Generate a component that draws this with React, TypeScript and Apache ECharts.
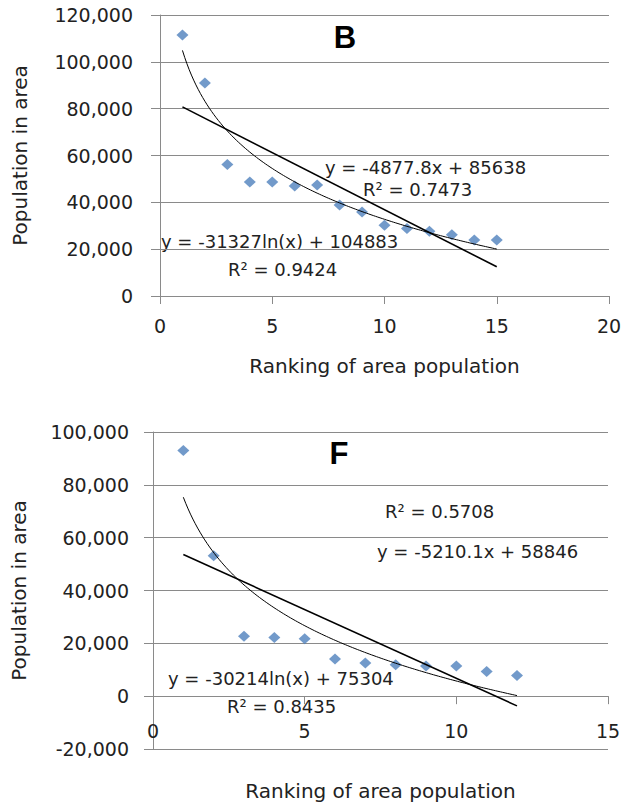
import React, { useEffect, useRef } from "react";
import * as echarts from "echarts";

// ---- Chart B data ----
const RANK_B = [1, 2, 3, 4, 5, 6, 7, 8, 9, 10, 11, 12, 13, 14, 15];
const POP_B = [111500, 91000, 56200, 48700, 48700, 47000, 47400, 38900, 35900, 30200, 28800, 27600, 26200, 23900, 23900];
const LIN_B = { slope: -4877.8, intercept: 85638 };
const LOG_B = { a: -31327, b: 104883 };
const TEXT_B = ["y = -4877.8x + 85638", "R² = 0.7473", "y = -31327ln(x) + 104883", "R² = 0.9424"];

// ---- Chart F data ----
const RANK_F = [1, 2, 3, 4, 5, 6, 7, 8, 9, 10, 11, 12];
const POP_F = [93000, 53200, 22700, 22200, 21700, 14100, 12600, 11900, 11400, 11400, 9300, 7800];
const LIN_F = { slope: -5210.1, intercept: 58846 };
const LOG_F = { a: -30214, b: 75304 };
const TEXT_F = ["R² = 0.5708", "y = -5210.1x + 58846", "y = -30214ln(x) + 75304", "R² = 0.8435"];

const X_NAME = "Ranking of area population";
const Y_NAME = "Population in area";

const FONT = "DejaVu Sans";
const GRID_COLOR = "#8a8a8a";
const TEXT_COLOR = "#222222";
const MARK_COLOR = "#4F81BD";

function linLine(xs: number[], c: { slope: number; intercept: number }) {
  const x0 = xs[0];
  const x1 = xs[xs.length - 1];
  return [
    [x0, c.slope * x0 + c.intercept],
    [x1, c.slope * x1 + c.intercept],
  ];
}
function logLine(xs: number[], c: { a: number; b: number }) {
  const x0 = xs[0];
  const x1 = xs[xs.length - 1];
  const pts: number[][] = [];
  const n = 140;
  for (let i = 0; i <= n; i++) {
    const x = x0 + ((x1 - x0) * i) / n;
    pts.push([x, c.a * Math.log(x) + c.b]);
  }
  return pts;
}

const fmt = (v: number) => v.toLocaleString("en-US");

function xAxisCfg(gridIndex: number, max: number, interval: number, nameGap: number, offset: number, margin: number) {
  return {
    type: "value",
    gridIndex,
    min: 0,
    max,
    interval,
    offset,
    name: X_NAME,
    nameLocation: "middle",
    nameGap,
    nameTextStyle: { fontFamily: FONT, fontSize: 20, color: TEXT_COLOR },
    axisLine: { show: true, onZero: false, lineStyle: { color: GRID_COLOR, width: 1 } },
    axisTick: { show: true, length: 8, lineStyle: { color: GRID_COLOR } },
    axisLabel: { fontFamily: FONT, fontSize: 19, color: TEXT_COLOR, margin },
    splitLine: { show: false },
  };
}
function yAxisCfg(gridIndex: number, min: number, max: number, nameGap: number, margin: number) {
  return {
    type: "value",
    gridIndex,
    min,
    max,
    interval: 20000,
    name: Y_NAME,
    nameLocation: "middle",
    nameGap,
    nameTextStyle: { fontFamily: FONT, fontSize: 20, color: TEXT_COLOR },
    axisLine: { show: true, onZero: false, lineStyle: { color: GRID_COLOR, width: 1 } },
    axisTick: { show: true, length: 9, lineStyle: { color: GRID_COLOR } },
    axisLabel: { fontFamily: FONT, fontSize: 19, color: TEXT_COLOR, margin, formatter: fmt },
    splitLine: { show: true, lineStyle: { color: GRID_COLOR, width: 1 } },
  };
}

function txt(x: number, y: number, text: string, size = 18, bold = false) {
  return {
    type: "text",
    x,
    y,
    style: {
      text,
      fontFamily: bold ? "Liberation Sans" : FONT,
      fontSize: size,
      fontWeight: bold ? "bold" : "normal",
      fill: bold ? "#000" : TEXT_COLOR,
      align: bold ? "center" : "left",
      verticalAlign: "middle",
    },
  };
}

const F_GRID_HEIGHT = 317;

export default function App() {
  const ref = useRef<HTMLDivElement>(null);
  useEffect(() => {
    if (!ref.current) return;
    const chart = echarts.init(ref.current, undefined, { renderer: "svg" });
    // the F chart's x-axis sits on the zero line, one 20,000 step above the grid bottom
    const zeroOffset = -F_GRID_HEIGHT / 6;
    const option: any = {
      animation: false,
      backgroundColor: "#ffffff",
      grid: [
        { left: 160, top: 15, width: 449, height: 281, outerBoundsMode: "none" },
        { left: 153, top: 432, width: 455, height: F_GRID_HEIGHT, outerBoundsMode: "none" },
      ],
      xAxis: [xAxisCfg(0, 20, 5, 60, 0, 20), xAxisCfg(1, 15, 5, 85, zeroOffset, 25)],
      yAxis: [yAxisCfg(0, 0, 120000, 130, 27), yAxisCfg(1, -20000, 100000, 124, 24)],
      series: [
        {
          type: "line",
          xAxisIndex: 0,
          yAxisIndex: 0,
          data: logLine(RANK_B, LOG_B),
          showSymbol: false,
          lineStyle: { color: "#000", width: 1 },
          z: 3,
        },
        {
          type: "line",
          xAxisIndex: 0,
          yAxisIndex: 0,
          data: linLine(RANK_B, LIN_B),
          showSymbol: false,
          lineStyle: { color: "#000", width: 1.6 },
          z: 3,
        },
        {
          type: "scatter",
          xAxisIndex: 0,
          yAxisIndex: 0,
          data: RANK_B.map((r, i) => [r, POP_B[i]]),
          symbol: "diamond",
          symbolSize: [12, 11],
          itemStyle: { color: MARK_COLOR },
          z: 2,
        },
        {
          type: "line",
          xAxisIndex: 1,
          yAxisIndex: 1,
          data: logLine(RANK_F, LOG_F),
          showSymbol: false,
          lineStyle: { color: "#000", width: 1 },
          z: 3,
        },
        {
          type: "line",
          xAxisIndex: 1,
          yAxisIndex: 1,
          data: linLine(RANK_F, LIN_F),
          showSymbol: false,
          lineStyle: { color: "#000", width: 1.6 },
          z: 3,
        },
        {
          type: "scatter",
          xAxisIndex: 1,
          yAxisIndex: 1,
          data: RANK_F.map((r, i) => [r, POP_F[i]]),
          symbol: "diamond",
          symbolSize: [12, 11],
          itemStyle: { color: MARK_COLOR },
          z: 2,
        },
      ],
      graphic: [
        txt(345, 37, "B", 31, true),
        txt(325, 167, TEXT_B[0]),
        txt(363, 189, TEXT_B[1]),
        txt(161, 241, TEXT_B[2]),
        txt(228, 269, TEXT_B[3]),
        txt(339, 453, "F", 31, true),
        txt(385, 511, TEXT_F[0]),
        txt(377, 551, TEXT_F[1]),
        txt(168, 678, TEXT_F[2]),
        txt(227, 706, TEXT_F[3]),
      ],
    };
    chart.setOption(option);
    return () => chart.dispose();
  }, []);
  return (
    <div
      ref={ref}
      style={{ position: "fixed", left: 0, top: 0, width: 622, height: 808, background: "#fff" }}
    />
  );
}
